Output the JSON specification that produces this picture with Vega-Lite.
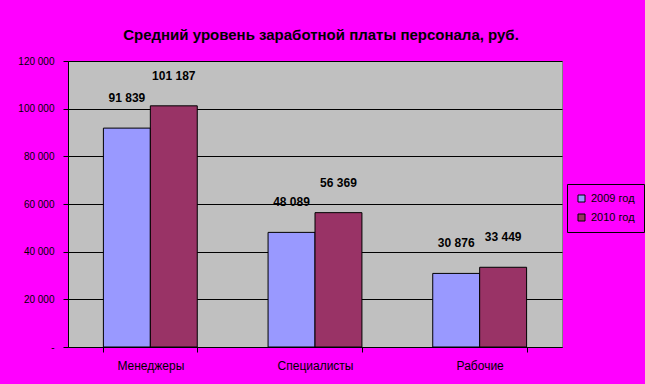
{
  "$schema": "https://vega.github.io/schema/vega-lite/v6.json",
  "width": 494,
  "height": 286,
  "autosize": {"type": "none"},
  "padding": {"left": 68, "top": 61, "right": 83, "bottom": 37},
  "background": "#FF00FF",
  "title": {
    "text": "Средний уровень заработной платы персонала, руб.",
    "font": "Liberation Sans",
    "fontSize": 15,
    "fontWeight": "bold",
    "color": "black",
    "offset": 13,
    "dx": 6
  },
  "data": {
    "values": [
      {"category": "Менеджеры", "year": "2009 год", "salary": 91839},
      {"category": "Менеджеры", "year": "2010 год", "salary": 101187},
      {"category": "Специалисты", "year": "2009 год", "salary": 48089},
      {"category": "Специалисты", "year": "2010 год", "salary": 56369},
      {"category": "Рабочие", "year": "2009 год", "salary": 30876},
      {"category": "Рабочие", "year": "2010 год", "salary": 33449}
    ]
  },
  "encoding": {
    "x": {
      "field": "category",
      "type": "nominal",
      "sort": ["Менеджеры", "Специалисты", "Рабочие"],
      "scale": {"paddingInner": 0.43, "paddingOuter": 0.215},
      "axis": {
        "title": null,
        "labelAngle": 0,
        "tickBand": "extent",
        "labelFontSize": 12,
        "labelPadding": 8,
        "tickSize": 5,
        "labelFont": "Liberation Sans"
      }
    },
    "xOffset": {"field": "year", "type": "nominal", "scale": {"paddingInner": 0, "paddingOuter": 0}},
    "y": {
      "field": "salary",
      "type": "quantitative",
      "scale": {"domain": [0, 120000], "nice": false},
      "axis": {
        "title": null,
        "values": [0, 20000, 40000, 60000, 80000, 100000, 120000],
        "format": ",d",
        "labelExpr": "datum.value == 0 ? '-\u00a0\u00a0\u00a0\u00a0\u00a0' : datum.label",
        "labelFontSize": 10,
        "labelPadding": 9,
        "tickSize": 5,
        "grid": true,
        "gridColor": "black",
        "gridOpacity": 1,
        "labelFont": "Liberation Sans"
      }
    }
  },
  "layer": [
    {
      "mark": {"type": "bar", "stroke": "black", "strokeWidth": 1},
      "encoding": {
        "color": {
          "field": "year",
          "type": "nominal",
          "scale": {"domain": ["2009 год", "2010 год"], "range": ["#9999FF", "#993366"]},
          "legend": {
            "title": null,
            "orient": "none",
            "legendX": 499,
            "legendY": 123,
            "strokeColor": "black",
            "fillColor": "#FF00FF",
            "padding": 9,
            "rowPadding": 7,
            "symbolType": "square",
            "symbolSize": 49,
            "symbolStrokeColor": "black",
            "symbolStrokeWidth": 1,
            "labelFontSize": 11,
            "labelFont": "Liberation Sans",
            "labelColor": "black"
          }
        }
      }
    },
    {
      "mark": {"type": "text", "fontWeight": "bold", "fontSize": 12, "font": "Liberation Sans", "color": "black", "baseline": "middle", "dy": -30},
      "encoding": {
        "text": {"field": "salary", "type": "quantitative", "format": ",d"}
      }
    }
  ],
  "config": {
    "locale": {"number": {"decimal": ",", "thousands": " ", "grouping": [3], "currency": ["", ""]}},
    "view": {"fill": "#C0C0C0", "stroke": "#808080", "strokeWidth": 1},
    "axis": {
      "domainColor": "black",
      "tickColor": "black",
      "labelColor": "black",
      "domainWidth": 1
    }
  }
}
